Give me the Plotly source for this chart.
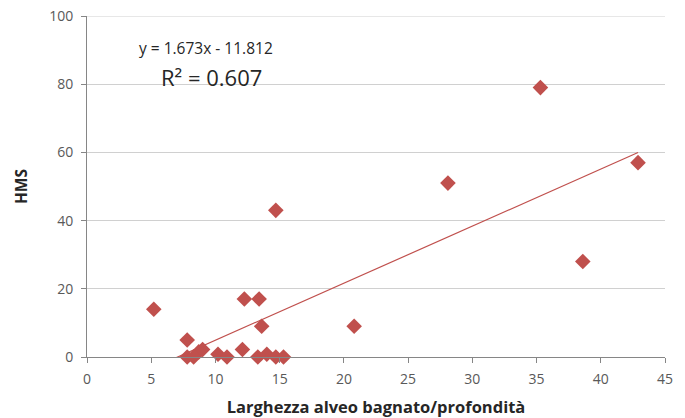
import plotly.graph_objects as go

# Data
x_vals = [5.2, 7.8, 7.8, 8.3, 8.7, 9.0, 10.2, 10.9, 12.1, 12.25, 13.4, 13.6, 13.3, 14.0,
          14.7, 15.3, 14.7, 20.8, 28.1, 35.3, 38.6, 42.9]
y_vals = [14, 5, 0, 0, 1.5, 2.2, 0.8, 0, 2.2, 17, 17, 9, 0, 0.8,
          0, 0, 43, 9, 51, 79, 28, 57]

slope = 1.673
intercept = -11.812
trend_x = [min(x_vals), max(x_vals)]
trend_y = [slope * v + intercept for v in trend_x]

x_ticks = [0, 5, 10, 15, 20, 25, 30, 35, 40, 45]
y_ticks = [0, 20, 40, 60, 80, 100]

marker_color = "#C0504D"
grid_color = "#D0D0D0"
font_family = "Open Sans, Liberation Sans, Arial, sans-serif"

fig = go.Figure()
fig.add_trace(go.Scatter(
    x=trend_x, y=trend_y, mode="lines",
    line=dict(color=marker_color, width=1.2),
    hoverinfo="skip", showlegend=False,
))
fig.add_trace(go.Scatter(
    x=x_vals, y=y_vals, mode="markers",
    marker=dict(symbol="diamond", size=12, color=marker_color,
                line=dict(width=0)),
    showlegend=False, cliponaxis=False,
))

# top gridline (plotly drops gridlines lying on the plot edge)
fig.add_shape(type="line", xref="paper", yref="y", x0=0, x1=1,
              y0=y_ticks[-1], y1=y_ticks[-1],
              line=dict(color=grid_color, width=1), layer="below")

fig.add_annotation(x=0.0865, y=0.906, xref="paper", yref="paper",
                   text="y = 1.673x - 11.812", showarrow=False,
                   xanchor="left", yanchor="middle",
                   font=dict(size=15.5, color="#262626", family=font_family))
fig.add_annotation(x=0.124, y=0.821, xref="paper", yref="paper",
                   text="R² = 0.607", showarrow=False,
                   xanchor="left", yanchor="middle",
                   font=dict(size=22, color="#262626", family=font_family))

fig.update_layout(
    width=685, height=418,
    margin=dict(l=87, r=20, t=16, b=61, autoexpand=False),
    paper_bgcolor="white", plot_bgcolor="white",
    font=dict(family=font_family, color="#595959", size=14),
    xaxis=dict(
        range=[0, 45], tickvals=x_ticks, showgrid=False, zeroline=False,
        showline=True, linecolor="#868686", linewidth=1,
        ticks="outside", ticklen=5, tickcolor="#868686",
        ticklabelstandoff=4,
        title=dict(text="<b>Larghezza alveo bagnato/profondità</b>",
                   font=dict(size=16.5, color="#262626"), standoff=14),
    ),
    yaxis=dict(
        range=[0, 100], tickvals=y_ticks, showgrid=True,
        gridcolor=grid_color, gridwidth=1, zeroline=False,
        showline=True, linecolor="#868686", linewidth=1,
        ticks="outside", ticklen=5, tickcolor="#868686",
        ticklabelstandoff=5, ticklabeloverflow="allow",
        title=dict(text="<b>HMS</b>", font=dict(size=15.5, color="#262626"),
                   standoff=17),
    ),
)

fig.write_html("out.html", config={"displayModeBar": False},
               post_script="document.body.style.margin='0';")
